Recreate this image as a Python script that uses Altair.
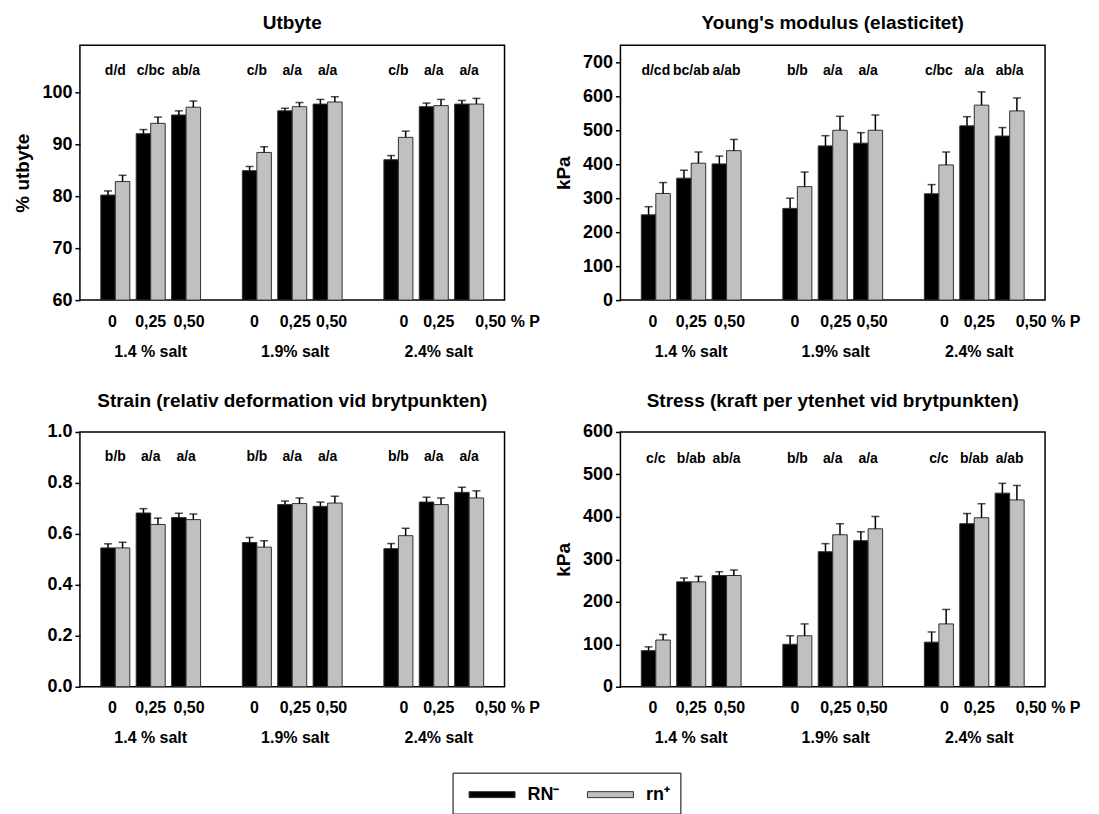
import altair as alt
import pandas as pd

FONT = "Liberation Sans"

# ---------------- data ----------------
series_names = ["RN⁻", "rn⁺"]
series_colors = ["#000000", "#c0c0c0"]
salt_labels = ["1.4 % salt", "1.9% salt", "2.4% salt"]
p_labels = ["0", "0,25", "0,50"]
p_unit = "% P"

# Utbyte (% utbyte)
utbyte_minus = [80.2, 92.0, 95.6, 84.9, 96.4, 97.7, 87.0, 97.2, 97.7]
utbyte_minus_err = [0.8, 0.8, 0.8, 0.8, 0.5, 0.9, 0.8, 0.7, 0.7]
utbyte_plus = [82.8, 94.0, 97.1, 88.4, 97.2, 98.1, 91.3, 97.4, 97.7]
utbyte_plus_err = [1.2, 1.2, 1.2, 1.1, 0.8, 1.0, 1.2, 1.2, 1.1]
utbyte_letters = ["d/d", "c/bc", "ab/a", "c/b", "a/a", "a/a", "c/b", "a/a", "a/a"]

# Young's modulus (kPa)
young_minus = [251, 359, 401, 270, 454, 462, 313, 513, 483]
young_minus_err = [24, 23, 23, 30, 30, 31, 27, 27, 25]
young_plus = [314, 403, 440, 334, 500, 500, 398, 574, 557]
young_plus_err = [32, 33, 33, 43, 41, 45, 38, 39, 38]
young_letters = ["d/cd", "bc/ab", "a/ab", "b/b", "a/a", "a/a", "c/bc", "a/a", "ab/a"]

# Strain
strain_minus = [0.545, 0.682, 0.664, 0.566, 0.715, 0.708, 0.542, 0.725, 0.763]
strain_minus_err = [0.016, 0.017, 0.017, 0.020, 0.014, 0.017, 0.020, 0.019, 0.020]
strain_plus = [0.545, 0.637, 0.656, 0.548, 0.719, 0.721, 0.593, 0.715, 0.741]
strain_plus_err = [0.022, 0.025, 0.022, 0.025, 0.022, 0.027, 0.029, 0.026, 0.028]
strain_letters = ["b/b", "a/a", "a/a", "b/b", "a/a", "a/a", "b/b", "a/a", "a/a"]

# Stress (kPa)
stress_minus = [85, 247, 262, 100, 318, 344, 105, 384, 456]
stress_minus_err = [9, 9, 9, 20, 19, 21, 24, 24, 23]
stress_plus = [110, 247, 262, 120, 358, 372, 148, 398, 440]
stress_plus_err = [13, 13, 13, 28, 26, 29, 34, 33, 34]
stress_letters = ["c/c", "b/ab", "ab/a", "b/b", "a/a", "a/a", "c/c", "b/ab", "a/ab"]

# ---------------- layout / style (not data) ----------------
label_shift = {"s00": -3, "s01": 0, "s02": 3, "s10": -2.5, "s11": 3,
               "s12": 4, "s20": 5.5, "s21": 5, "s22": 6}

# ---------------- x slots ----------------
cells = [f"s{g}{p}" for g in range(3) for p in range(3)]
slot_domain = []
for g in range(3):
    if g > 0:
        slot_domain.append(f"gap{g}")
    for p in range(3):
        slot_domain.append(f"s{g}{p}")


def label_of(slot):
    g, p = int(slot[1]), int(slot[2])
    if p == 1:
        return f"['{p_labels[p]}', '{salt_labels[g]}']"
    if g == 2 and p == 2:
        return f"'{p_labels[p]}  {p_unit}'"
    return f"'{p_labels[p]}'"


label_expr = "".join(f"datum.value === '{c}' ? {label_of(c)} : " for c in cells) + "''"
last_cell = cells[-1]
offset_cond = {
    "condition": [{"test": f"datum.value === '{c}'", "value": label_shift[c]} for c in cells],
    "value": 0,
}

xscale = alt.Scale(domain=slot_domain, paddingInner=0.18, paddingOuter=0.59)
xaxis = alt.Axis(
    labelExpr=label_expr,
    labelAlign={"condition": {"test": f"datum.value === '{last_cell}'", "value": "left"}, "value": "center"},
    labelOffset=offset_cond,
    ticks=False, domain=False, labelPadding=13, labelFontSize=16, labelFontWeight="bold",
    labelColor="black", labelLineHeight=30, labelAngle=0, labelOverlap=False, grid=False,
    labelFont=FONT,
)
xoff = alt.XOffset("series:N", scale=alt.Scale(domain=series_names, paddingInner=0, paddingOuter=0))

legend = alt.Legend(
    title=None, orient="none", legendX=373, legendY=728, direction="horizontal",
    strokeColor="black", padding=10, fillColor="white",
    symbolType="M-2,-0.26H2V0.26H-2Z", symbolSize=529, symbolOffset=17.5,
    symbolStrokeColor="#303030", symbolStrokeWidth=1,
    labelFontSize=18, labelFontWeight="bold", labelFont=FONT, labelColor="black",
    labelOffset=23.5, columnPadding=21.5,
)
color = alt.Color("series:N", scale=alt.Scale(domain=series_names, range=series_colors), legend=legend)


def panel(title, ytitle, vm, em, vp, ep, letters, letter_y, domain, ticks, fmt):
    rows = []
    for s, vals, errs in ((series_names[0], vm, em), (series_names[1], vp, ep)):
        for c, v, e in zip(cells, vals, errs):
            rows.append({"slot": c, "series": s, "value": v, "upper": v + e})
    df = pd.DataFrame(rows)
    ldf = pd.DataFrame({"slot": cells, "letters": letters, "ly": [letter_y] * len(cells)})

    yscale = alt.Scale(domain=domain, nice=False, zero=False)
    yaxis = alt.Axis(
        values=ticks, format=fmt, tickSize=5, tickColor="black", tickWidth=1.5,
        labelFontSize=18, labelFontWeight="bold", labelColor="black", labelPadding=3,
        labelFont=FONT, titleFont=FONT, labelOverlap=False,
        titleFontSize=19, titleFontWeight="bold", titleColor="black", titlePadding=9,
        domain=False, grid=False,
    )
    x = alt.X("slot:N", scale=xscale, axis=xaxis, title=None)

    def yenc(field):
        return alt.Y(field, scale=yscale, axis=yaxis, title=ytitle)

    bars = alt.Chart(df).mark_bar(stroke="#303030", strokeWidth=1).encode(
        x=x, xOffset=xoff, y=yenc("value:Q"), y2=alt.datum(domain[0]), color=color,
    )
    rule = alt.Chart(df).mark_rule(color="black", strokeWidth=1.5).encode(
        x=x, xOffset=xoff, y=yenc("value:Q"), y2="upper:Q"
    )
    cap = alt.Chart(df).mark_tick(color="black", thickness=1.5, size=8).encode(
        x=x, xOffset=xoff, y=yenc("upper:Q")
    )
    txt = alt.Chart(ldf).mark_text(fontSize=14, fontWeight="bold", font=FONT, color="black").encode(
        x=x, y=yenc("ly:Q"), text="letters:N"
    )
    return alt.layer(bars, rule, cap, txt).properties(
        width=425, height=255,
        title=alt.TitleParams(title, fontSize=19, fontWeight="bold", font=FONT, color="black",
                              offset=12, anchor="middle"),
    )


p1 = panel("Utbyte", "% utbyte", utbyte_minus, utbyte_minus_err, utbyte_plus, utbyte_plus_err,
           utbyte_letters, 104, [60, 109], [60, 70, 80, 90, 100], "d")
p2 = panel("Young's modulus (elasticitet)", "kPa", young_minus, young_minus_err, young_plus, young_plus_err,
           young_letters, 675, [0, 750], [0, 100, 200, 300, 400, 500, 600, 700], "d")
p3 = panel("Strain (relativ deformation vid brytpunkten)", None, strain_minus, strain_minus_err,
           strain_plus, strain_plus_err, strain_letters, 0.9, [0, 1.0], [0, 0.2, 0.4, 0.6, 0.8, 1.0], ".1f")
p4 = panel("Stress (kraft per ytenhet vid brytpunkten)", "kPa", stress_minus, stress_minus_err,
           stress_plus, stress_plus_err, stress_letters, 537, [0, 600], [0, 100, 200, 300, 400, 500, 600], "d")

chart = alt.concat(p1, p2, p3, p4, columns=2, spacing={"row": 132, "column": 116}, bounds="flush").configure(
    font=FONT, background="white"
).configure_view(stroke="black", strokeWidth=1.5)

chart.save("out.html", embed_options={"renderer": "svg", "actions": False})
